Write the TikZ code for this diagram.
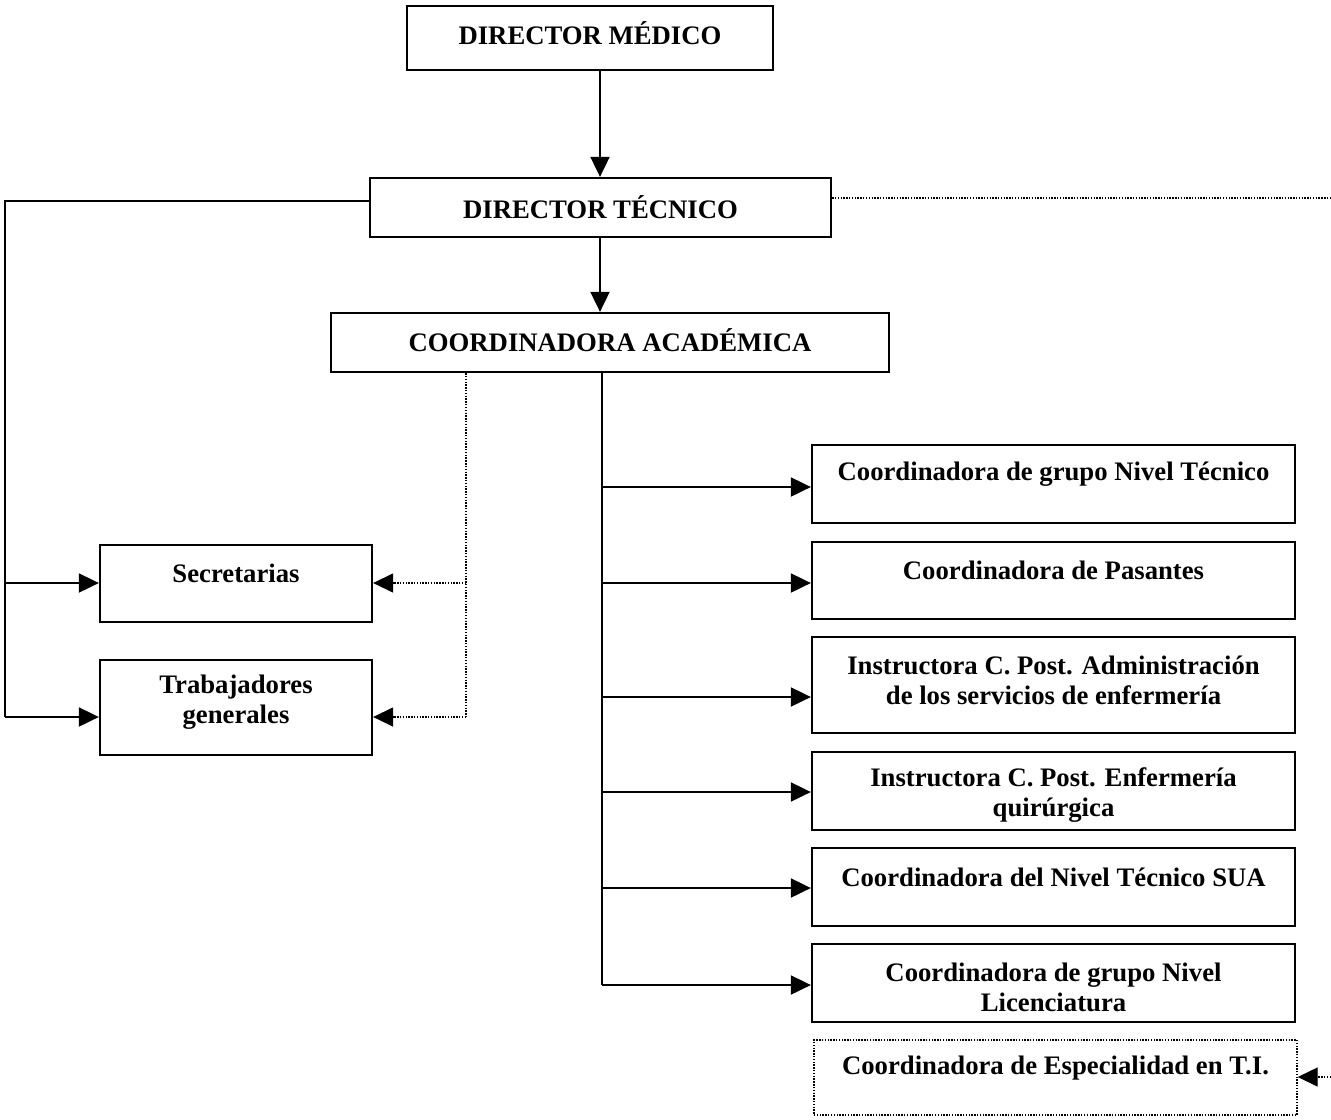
\documentclass[tikz,border=0pt]{standalone}
\usepackage{fontspec}
\setmainfont{Liberation Serif}
\usetikzlibrary{arrows.meta,calc}
\begin{document}
\begin{tikzpicture}[x=0.02cm,y=-0.02cm,
  box/.style={draw,line width=1.3pt,rectangle,inner sep=0pt},
  dbox/.style={draw,line width=0.8pt,dash pattern=on 0.8pt off 0.8pt,rectangle,inner sep=0pt},
  lbl/.style={font=\bfseries\fontsize{15.2}{17}\selectfont,align=center,inner sep=0pt},
  conn/.style={line width=1.1pt},
  arr/.style={line width=1.1pt,-{Triangle[length=0.4cm,width=0.38cm]}},
  dconn/.style={line width=0.8pt,dash pattern=on 0.8pt off 0.8pt},
  darr/.style={line width=0.8pt,dash pattern=on 0.8pt off 0.8pt,-{Triangle[length=0.4cm,width=0.38cm]}}]
\useasboundingbox (0,0) rectangle (1331,1119);
% boxes
\node[box,minimum width=366*0.02cm,minimum height=64*0.02cm] (dm) at (590,38) {};
\node[lbl] (dmt) at (590,33) {DIRECTOR MÉDICO};
\node[box,minimum width=461*0.02cm,minimum height=59*0.02cm] (dt) at (600.5,207.5) {};
\node[lbl] (dtt) at (600.5,207) {DIRECTOR TÉCNICO};
\node[box,minimum width=558*0.02cm,minimum height=59*0.02cm] (ca) at (610,342.5) {};
\node[lbl] (cat) at (610,340) {COORDINADORA ACADÉMICA};
\node[box,minimum width=272*0.02cm,minimum height=77*0.02cm] (sec) at (236,583.5) {};
\node[lbl] (sect) at (236,573) {Secretarias};
\node[box,minimum width=272*0.02cm,minimum height=95*0.02cm] (trab) at (236,707.5) {};
\node[lbl] (trabt) at (236,702) {Trabajadores\\generales};
\node[box,minimum width=483*0.02cm,minimum height=78*0.02cm] (r1) at (1053.5,484) {};
\node[lbl] (r1t) at (1053.5,474) {Coordinadora de grupo Nivel Técnico};
\node[box,minimum width=483*0.02cm,minimum height=77*0.02cm] (r2) at (1053.5,580.5) {};
\node[lbl] (r2t) at (1053.5,570) {Coordinadora de Pasantes};
\node[box,minimum width=483*0.02cm,minimum height=96*0.02cm] (r3) at (1053.5,685) {};
\node[lbl] (r3t) at (1053.5,680) {Instructora C. Post. Administración\\de los servicios de enfermería};
\node[box,minimum width=483*0.02cm,minimum height=78*0.02cm] (r4) at (1053.5,791) {};
\node[lbl] (r4t) at (1053.5,795) {Instructora C. Post. Enfermería\\quirúrgica};
\node[box,minimum width=483*0.02cm,minimum height=78*0.02cm] (r5) at (1053.5,887) {};
\node[lbl] (r5t) at (1053.5,877) {Coordinadora del Nivel Técnico SUA};
\node[box,minimum width=483*0.02cm,minimum height=78*0.02cm] (r6) at (1053.5,983) {};
\node[lbl] (r6t) at (1053.5,987) {Coordinadora de grupo Nivel\\Licenciatura};
\node[dbox,minimum width=483*0.02cm,minimum height=75*0.02cm] (r7) at (1055.5,1077.5) {};
\node[lbl] (r7t) at (1055.5,1068) {Coordinadora de Especialidad en T.I.};
% coordinates
\coordinate (lx) at (5,201);
\coordinate (rend) at (1331,198);
\coordinate (r7src) at (1331,1077);
% top arrows
\draw[arr] (dm.south -| 600,0) -- (dt.north -| 600,0);
\draw[arr] (dt.south -| 600,0) -- (ca.north -| 600,0);
% dotted right of DT
\draw[dconn] (dt.east |- rend) -- (rend);
% left solid line
\draw[conn] (dt.west |- lx) -- (lx) -- (5,717);
\draw[arr] (5,583) -- (sec.west |- 0,583);
\draw[arr] (5,717) -- (trab.west |- 0,717);
% dotted from CA
\draw[dconn] (ca.south -| 466,0) -- (466,717);
\draw[darr] (466,583) -- (sec.east |- 0,583);
\draw[darr] (466,717) -- (trab.east |- 0,717);
% solid trunk from CA
\draw[conn] (ca.south -| 602,0) -- (602,985);
\draw[arr] (602,487) -- (r1.west |- 0,487);
\draw[arr] (602,583) -- (r2.west |- 0,583);
\draw[arr] (602,697) -- (r3.west |- 0,697);
\draw[arr] (602,792) -- (r4.west |- 0,792);
\draw[arr] (602,888) -- (r5.west |- 0,888);
\draw[arr] (602,985) -- (r6.west |- 0,985);
% dotted arrow to r7
\draw[darr] (r7src) -- (r7.east |- r7src);
\end{tikzpicture}
\end{document}
